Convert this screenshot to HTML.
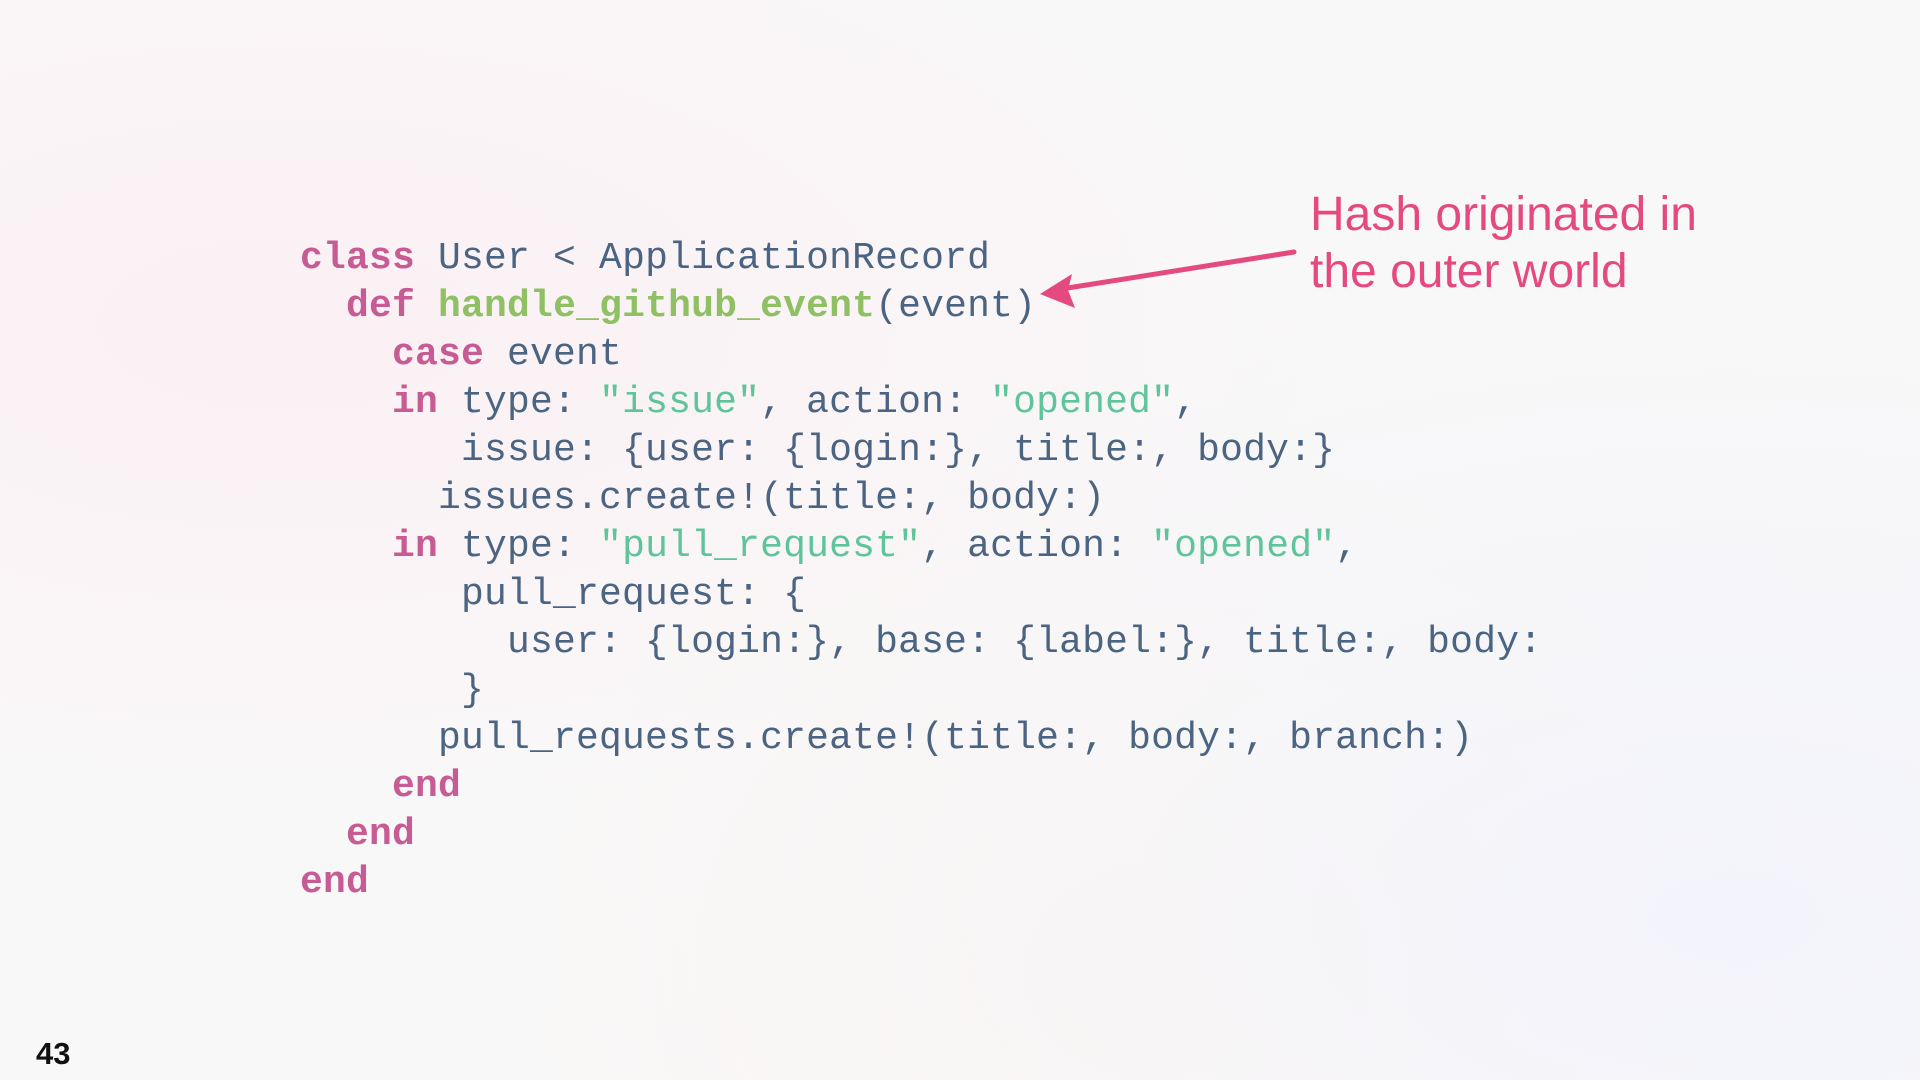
<!DOCTYPE html>
<html><head><meta charset="utf-8"><style>
html,body{margin:0;padding:0;}
body{width:1920px;height:1080px;overflow:hidden;position:relative;
background:radial-gradient(ellipse at 15% 30%,#fbf0f4 0%,rgba(251,240,244,0) 45%),radial-gradient(ellipse at 90% 85%,#f3f4fb 0%,rgba(243,244,251,0) 50%),radial-gradient(ellipse at 60% 90%,#fdf6f0 0%,rgba(253,246,240,0) 40%),#f9f8f8;}
.l{position:absolute;left:300px;font-family:"Liberation Mono",monospace;font-size:38px;letter-spacing:0.2px;line-height:48px;white-space:pre;color:#4b6482;}
.k{color:#c75b93;font-weight:bold;}
.m{color:#8fc064;font-weight:bold;}
.s{color:#5ec49a;}
.a{position:absolute;left:1310px;font-family:"Liberation Sans",sans-serif;font-size:48px;line-height:56px;color:#e4497f;white-space:nowrap;}
.n{position:absolute;left:36px;top:1036px;font-family:"Liberation Sans",sans-serif;font-weight:bold;font-size:31px;color:#111;}
</style></head><body>
<div class="l" style="top:235px"><span class="k">class</span> User &lt; ApplicationRecord</div>
<div class="l" style="top:283px">  <span class="k">def</span> <span class="m">handle_github_event</span>(event)</div>
<div class="l" style="top:331px">    <span class="k">case</span> event</div>
<div class="l" style="top:379px">    <span class="k">in</span> type: <span class="s">"issue"</span>, action: <span class="s">"opened"</span>,</div>
<div class="l" style="top:427px">       issue: {user: {login:}, title:, body:}</div>
<div class="l" style="top:475px">      issues.create!(title:, body:)</div>
<div class="l" style="top:523px">    <span class="k">in</span> type: <span class="s">"pull_request"</span>, action: <span class="s">"opened"</span>,</div>
<div class="l" style="top:571px">       pull_request: {</div>
<div class="l" style="top:619px">         user: {login:}, base: {label:}, title:, body:</div>
<div class="l" style="top:667px">       }</div>
<div class="l" style="top:715px">      pull_requests.create!(title:, body:, branch:)</div>
<div class="l" style="top:763px">    <span class="k">end</span></div>
<div class="l" style="top:811px">  <span class="k">end</span></div>
<div class="l" style="top:859px"><span class="k">end</span></div>
<div class="a" style="top:187px">Hash originated in</div>
<div class="a" style="top:244px">the outer world</div>
<svg style="position:absolute;left:0;top:0" width="1920" height="1080">
<line x1="1294" y1="252" x2="1055" y2="290" stroke="#e4497f" stroke-width="5" stroke-linecap="round"/>
<polygon points="1040,294 1072,274 1068,290 1075,308" fill="#e4497f"/>
</svg>
<div class="n">43</div>
</body></html>
